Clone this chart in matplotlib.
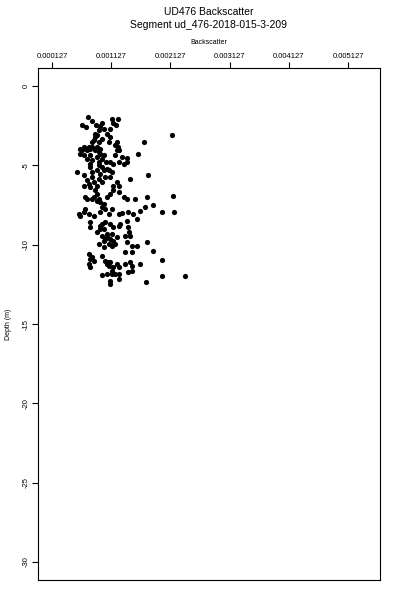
import matplotlib
matplotlib.use("Agg")
import matplotlib.pyplot as plt
import numpy as np

plt.rcParams['font.family'] = ['Liberation Sans', 'DejaVu Sans']
plt.rcParams['axes.unicode_minus'] = False

# backscatter values in units of 1e-3, depth in m
backscatter_e3 = [
    0.728, 0.801, 0.632, 0.705, 0.874, 0.942, 1.009, 0.970, 1.138, 1.234,
    1.166, 1.211, 1.110, 0.913, 0.846, 0.857, 0.829, 0.913, 0.970, 1.054,
    1.110, 1.082, 1.223, 1.234, 1.223, 1.194, 2.150, 1.684, 0.745, 0.660,
    0.604, 0.801, 0.717, 0.885, 0.913, 0.942, 0.885, 0.970, 0.913, 0.801,
    0.717, 0.604, 0.660, 1.588, 1.391, 1.307, 1.251, 1.166, 1.335, 1.391,
    1.110, 1.043, 0.762, 0.773, 0.548, 0.672, 0.801, 0.885, 0.942, 1.009,
    1.082, 1.110, 1.026, 0.913, 0.970, 0.829, 0.745, 0.660, 0.773, 1.223,
    1.166, 1.251, 1.447, 1.757, 0.857, 0.885, 0.717, 0.801, 0.885, 0.942,
    0.970, 1.026, 1.054, 1.110, 1.166, 1.251, 1.335, 1.391, 1.532, 1.729,
    2.178, 1.830, 1.701, 1.982, 2.189, 1.616, 1.503, 1.560, 1.419, 1.307,
    1.251, 1.138, 1.082, 0.942, 0.689, 0.576, 0.604, 0.745, 0.829, 0.773,
    0.773, 0.942, 1.026, 1.110, 1.166, 0.942, 0.885, 0.970, 1.054, 1.110,
    1.166, 1.082, 1.000, 0.913, 1.223, 1.251, 1.279, 1.391, 1.419, 1.436,
    1.447, 1.363, 1.391, 1.475, 1.560, 1.729, 1.841, 1.363, 1.475, 0.745,
    0.801, 0.829, 0.745, 0.773, 0.970, 1.026, 1.054, 1.110, 1.223, 1.251,
    1.363, 1.447, 1.475, 1.616, 1.982, 0.970, 1.054, 1.138, 1.138, 1.110,
    1.110, 1.251, 1.251, 1.419, 1.475, 1.712, 1.982, 2.375,
    0.632, 0.773, 0.857, 0.942, 0.762, 0.998, 0.913, 0.970, 1.054, 1.138,
    0.717, 0.801, 0.885, 0.689, 0.829, 0.913, 0.998, 0.660, 0.970, 0.998,
    1.054, 1.138, 1.026, 1.194, 1.138, 0.998, 0.773, 1.054, 1.082, 1.166,
    1.194, 1.251, 1.194, 0.801, 0.885,
]
depth = [
    -1.94, -2.19, -2.47, -2.57, -2.43, -2.53, -2.68, -2.36, -2.05, -2.05,
    -2.36, -2.47, -2.68, -2.78, -3.00, -3.21, -3.42, -3.52, -3.31, -3.00,
    -3.21, -3.52, -3.52, -3.84, -4.05, -4.37, -3.06, -3.52, -3.84, -3.84,
    -3.95, -3.84, -4.05, -3.84, -4.16, -4.26, -4.47, -4.58, -4.79, -4.68,
    -4.58, -4.26, -4.37, -4.26, -4.51, -4.47, -4.79, -4.89, -4.89, -4.79,
    -4.79, -4.79, -4.89, -5.11, -5.42, -5.63, -5.42, -5.32, -5.53, -5.32,
    -5.32, -5.74, -5.74, -5.84, -6.05, -6.05, -6.16, -6.27, -6.37, -6.05,
    -6.27, -6.27, -5.84, -5.63, -6.58, -6.79, -7.11, -7.11, -7.22, -7.32,
    -7.64, -7.74, -7.00, -6.79, -6.58, -6.69, -7.00, -7.15, -7.15, -7.00,
    -6.90, -7.47, -7.64, -7.95, -7.91, -7.85, -8.06, -8.38, -7.95, -8.02,
    -8.06, -7.74, -8.06, -7.95, -7.74, -8.06, -8.16, -8.06, -8.16, -8.59,
    -8.90, -8.80, -8.59, -8.69, -8.90, -9.01, -9.22, -9.43, -9.32, -9.64,
    -9.75, -9.96, -9.75, -9.96, -9.54, -8.80, -8.69, -8.48, -8.90, -9.22,
    -9.43, -9.43, -9.85, -10.06, -10.11, -9.85, -10.42, -10.49, -10.49, -10.59,
    -10.80, -11.01, -11.22, -11.43, -10.70, -11.01, -11.22, -11.12, -11.22, -11.43,
    -11.22, -11.12, -11.33, -11.22, -10.97, -11.90, -11.86, -11.65, -11.86, -12.28,
    -12.49, -11.86, -12.17, -11.75, -11.65, -12.38, -12.00, -12.00,
    -4.01, -3.95, -4.05, -3.95, -4.37, -4.37, -5.00, -5.11, -5.21, -5.42,
    -5.95, -5.74, -6.27, -7.00, -7.00, -7.11, -7.43, -7.95, -8.69, -9.01,
    -9.54, -9.32, -9.64, -9.96, -10.06, -10.17, -10.91, -11.12, -11.33, -11.43,
    -11.86, -4.05, -3.73, -3.52, -3.10,
]

xtick_vals = [0.000127, 0.001127, 0.002127, 0.003127, 0.004127, 0.005127]
xtick_labels = ["0.000127", "0.001127", "0.002127", "0.003127", "0.004127", "0.005127"]
ytick_vals = [0, -5, -10, -15, -20, -25, -30]

x = np.array(backscatter_e3) * 1e-3
y = np.array(depth)

fig = plt.figure(figsize=(4, 6), dpi=100)
ax = fig.add_axes([0.095, 0.0333, 0.855, 0.8534])

ax.scatter(x, y, s=14, c='black', linewidths=0)

ax.set_xlim(-0.000109, 0.005667)
ax.set_ylim(-31.14, 1.14)

ax.xaxis.tick_top()
ax.xaxis.set_label_position('top')
ax.set_xticks(xtick_vals)
ax.set_xticklabels(xtick_labels, fontsize=5.5)
ax.set_yticks(ytick_vals)
ax.set_yticklabels([str(v) for v in ytick_vals], fontsize=5.5, rotation=90, va='center')
ax.tick_params(direction='out', length=4, width=0.8, pad=2)
ax.set_xlabel("Backscatter", fontsize=5, labelpad=6)
ax.set_ylabel("Depth (m)", fontsize=5, labelpad=8)
for sp in ax.spines.values():
    sp.set_linewidth(0.8)

fig.text(0.5225, 1 - 12/600, "UD476 Backscatter", ha='center', va='center', fontsize=7.5)
fig.text(0.5225, 1 - 25/600, "Segment ud_476-2018-015-3-209", ha='center', va='center', fontsize=7.5)

fig.savefig("out.png", dpi=100)
